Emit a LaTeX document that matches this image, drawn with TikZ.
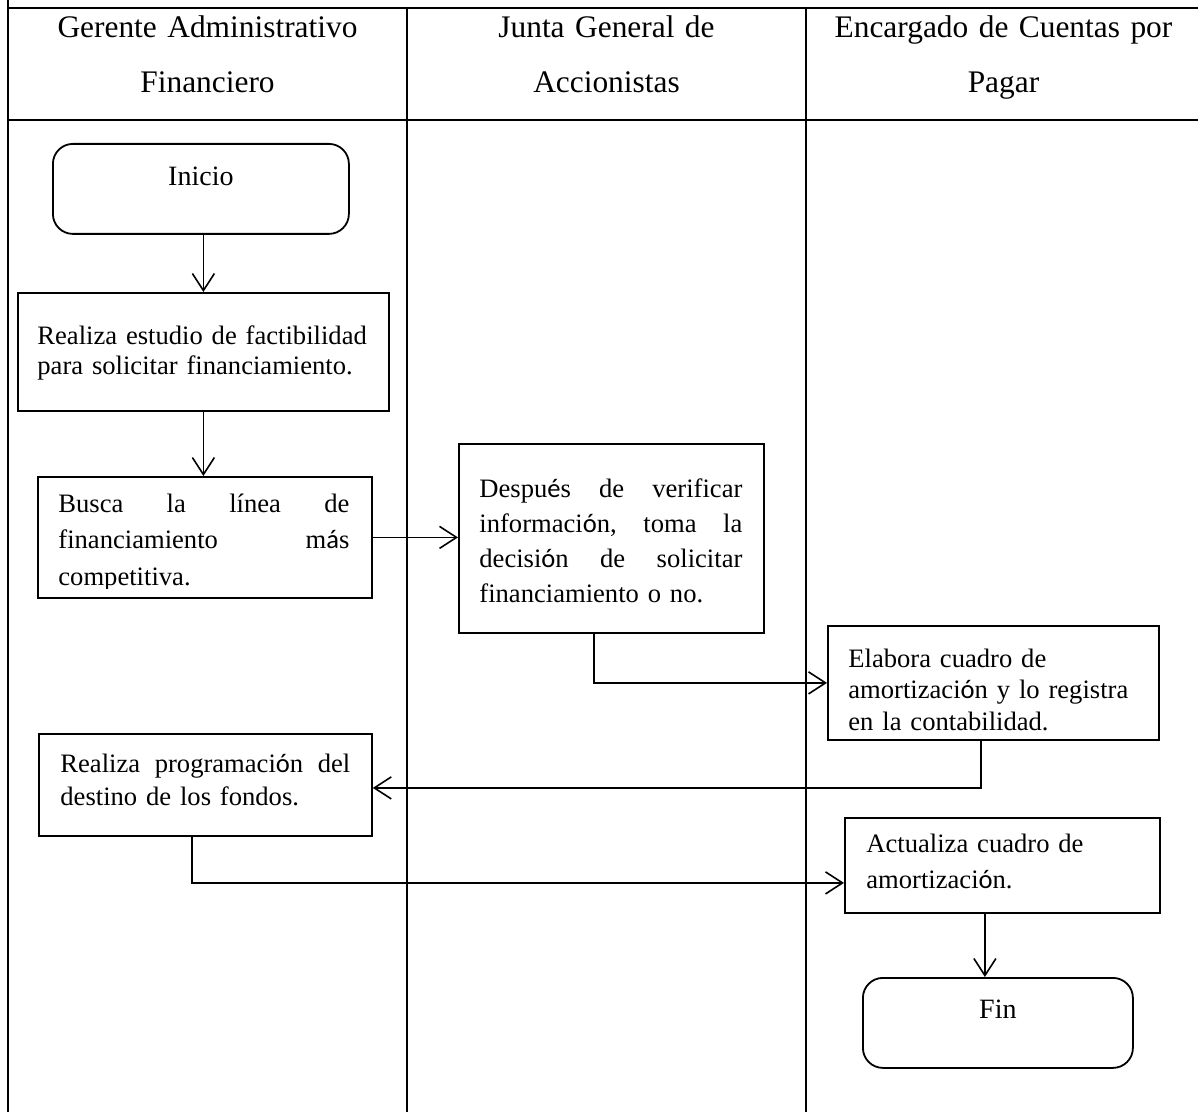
\documentclass[tikz,border=0pt]{standalone}
\usepackage{fontspec}
\setmainfont{Liberation Serif}
\newfontfamily\accfont{Carlito}
\usetikzlibrary{arrows.meta}

\begin{document}
\begin{tikzpicture}[x=0.5pt,y=-0.5pt,
  grid/.style={line width=1.25pt},
  box/.style={draw, line width=0.9pt, rectangle, inner sep=0pt, anchor=north west},
  term/.style={draw, line width=0.9pt, rounded corners=10pt, inner sep=0pt,
               anchor=north west, font=\fontsize{14}{16}\selectfont, text height=10pt},
  head/.style={anchor=north, inner sep=0pt, text width=195pt, align=center,
               font=\fontsize{15.7}{27.3}\selectfont},
  txt/.style={anchor=north west, inner sep=0pt, align=left},
  flow/.style={line width=0.8pt, -{Straight Barb[length=8.5pt,width=11pt]}}
]
\useasboundingbox (0,0) rectangle (1198,1112);

% swimlane table
\draw[grid] (8,0) -- (8,1112);
\draw[grid] (8,8) -- (1198,8);
\draw[grid] (8,120) -- (1198,120);
\draw[grid] (407,8) -- (407,1112);
\draw[grid] (806,8) -- (806,1112);

% lane headers
\node[head] (h1) at (207.5,15.5) {Gerente Administrativo\\Financiero};
\node[head] (h2) at (606.5,15.5) {Junta General de\\Accionistas};
\node[head] (h3) at (1003.5,15.5) {Encargado de Cuentas por\\Pagar};

% start / end
\node[term, minimum width=148pt, minimum height=45pt, text depth=13pt] (inicio) at (52,143) {Inicio};
\node[term, minimum width=135pt, minimum height=45pt, text depth=14pt] (fin) at (862,977) {Fin};

% process boxes
\node[box, minimum width=185.5pt, minimum height=59pt]   (estudio)   at (17,292)  {};
\node[box, minimum width=167pt,   minimum height=60.5pt] (busca)     at (37,476)  {};
\node[box, minimum width=152.5pt, minimum height=94.5pt] (despues)   at (458,443) {};
\node[box, minimum width=165.5pt, minimum height=57pt]   (elabora)   at (827,625) {};
\node[box, minimum width=166.5pt, minimum height=51pt]   (prog)      at (38,733)  {};
\node[box, minimum width=157.5pt, minimum height=47.5pt] (actualiza) at (844,817) {};

% box texts
\node[txt, text width=170pt, font=\fontsize{13.3}{15}\selectfont] (estudio-t) at (37,325)
  {Realiza estudio de factibilidad\\para solicitar financiamiento.};
\begin{scope}
  \clip (busca.north west) rectangle ([yshift=5pt]busca.south east);
  \node[txt, text width=145.5pt, font=\fontsize{13.3}{18.25}\selectfont] (busca-t) at (58,493.5)
    {Busca\hfill la\hfill línea\hfill de\\financiamiento\hfill m{\accfont á}s\\competitiva.};
\end{scope}
\node[txt, text width=131.5pt, font=\fontsize{13.3}{17.5}\selectfont] (despues-t) at (479,478.5)
  {Despu{\accfont é}s\hfill de\hfill verificar\\informaci{\accfont ó}n,\hfill toma\hfill la\\decisi{\accfont ó}n\hfill de\hfill solicitar\\financiamiento o no.};
\node[txt, text width=150pt, font=\fontsize{13.3}{15.8}\selectfont] (elabora-t) at (848,648.5)
  {Elabora cuadro de\\amortizaci{\accfont ó}n y lo registra\\en la contabilidad.};
\node[txt, text width=145pt, font=\fontsize{13.3}{16.6}\selectfont] (prog-t) at (60,753.5)
  {Realiza\hfill programaci{\accfont ó}n\hfill del\\destino de los fondos.};
\node[txt, text width=150pt, font=\fontsize{13.3}{18.3}\selectfont] (actualiza-t) at (866,833.5)
  {Actualiza cuadro de\\amortizaci{\accfont ó}n.};

% connectors
\draw[flow] (estudio.north |- inicio.south) -- (estudio.north);
\draw[flow] (estudio.south) -- (estudio.south |- busca.north);
\draw[flow] (busca.east) -- (busca.east -| despues.west);
\draw[flow] ([xshift=-8.75pt]despues.south) |- (elabora.west);
\draw[flow] ([xshift=-6.25pt]elabora.south) |- ([yshift=-1.5pt]prog.east);
\draw[flow] ([xshift=-6.75pt]prog.south) |- ([yshift=-8.75pt]actualiza.west);
\draw[flow] ([xshift=-8.75pt]actualiza.south) -- ([xshift=-8.75pt]actualiza.south |- fin.north);
\end{tikzpicture}
\end{document}
